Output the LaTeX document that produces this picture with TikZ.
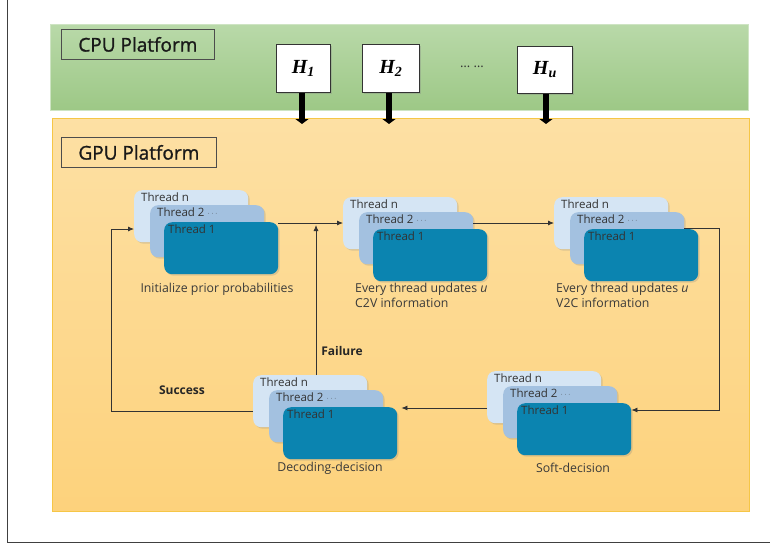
\documentclass[tikz,border=0pt]{standalone}
\usepackage{fontspec}
\setmainfont{Open Sans}
\newfontfamily\hfont{Liberation Serif}
\newfontfamily\platfont[FakeBold=1.2]{Open Sans}
\usetikzlibrary{arrows.meta,shadows,calc}
\definecolor{gtop}{HTML}{B9D9A9}
\definecolor{gbot}{HTML}{9DC886}
\definecolor{otop}{HTML}{FDE0A4}
\definecolor{obot}{HTML}{FDD27C}
\definecolor{oedge}{HTML}{F6C646}
\definecolor{tn}{HTML}{D5E5F4}
\definecolor{tb}{HTML}{A3C1E0}
\definecolor{ta}{HTML}{0B84B0}
\definecolor{ln}{HTML}{333333}
\definecolor{txt}{HTML}{3A3A3A}
\tikzset{
  thr/.style={draw=none, rounded corners=8pt, minimum width=114pt, minimum height=52pt,
    inner sep=0pt, drop shadow={shadow xshift=1.5pt, shadow yshift=-1.5pt, opacity=0.25}},
  thrn/.style={thr, fill=tn},
  thrb/.style={thr, fill=tb},
  thra/.style={thr, fill=ta},
  tlab/.style={font=\fontsize{11.5}{13}\selectfont, text=black!80, inner sep=0pt, anchor=north west},
  capt/.style={font=\fontsize{12.3}{14.5}\selectfont, text=txt, inner sep=0pt},
  plat/.style={draw=black!70, line width=0.8pt, inner sep=0pt, minimum height=30pt,
    font=\platfont\fontsize{19}{21}\selectfont, text=black!90},
  hbox/.style={draw=black!80, fill=white, line width=0.8pt, inner sep=0pt,
    drop shadow={shadow xshift=1.5pt, shadow yshift=-1.5pt, opacity=0.3},
    font=\hfont\bfseries\itshape\fontsize{20}{22}\selectfont},
  conn/.style={draw=ln, line width=0.8pt},
  arr/.style={conn, -{Latex[length=6pt,width=5pt]}},
  bigarr/.style={line width=5.5pt, -{Triangle[length=5pt,width=13pt]}, black},
  boldlab/.style={font=\fontsize{12}{13}\selectfont\bfseries, text=black!85},
}
\newcommand{\mkstack}[3]{%
  \node[thrn, anchor=north west] (#1n) at (#2,#3) {};
  \node[tlab] at ($(#1n.north west)+(7,3)$) {Thread n};
  \node[thrb, anchor=north west] (#1b) at (#2+16,#3+15) {};
  \node[tlab] at ($(#1b.north west)+(7,3)$) {Thread 2 {\fontsize{7}{8}\selectfont\raisebox{1pt}{$\cdots$}}};
  \node[thra, anchor=north west] (#1a) at (#2+30,#3+32) {};
  \node[tlab] at ($(#1a.north west)+(4,3)$) {Thread 1};
}
\begin{document}
\begin{tikzpicture}[x=1pt,y=-1pt]
\useasboundingbox (0,0) rectangle (770,546);
\fill[white] (0,0) rectangle (770,546);
% outer frame (left and bottom)
\draw[black!75, line width=1pt] (7,0) -- (7,542) -- (770,542);
% CPU platform
\shade[top color=gtop, bottom color=gbot] (50,24) rectangle (748,110);
\draw[gtop!70!white, line width=0.5pt] (50,24) rectangle (748,110);
\node[plat, minimum width=153pt, anchor=north west] (cpu) at (61,29) {CPU Platform};
% GPU platform
\shade[top color=otop, bottom color=obot] (52,118) rectangle (749,511);
\draw[oedge, line width=0.8pt] (52,118) rectangle (749,511);
\node[plat, minimum width=155pt, anchor=north west] (gpu) at (61,137) {GPU Platform};
% H boxes
\node[hbox, minimum width=54pt, minimum height=48pt, anchor=north west] (h1) at (276,44) {H\textsubscript{1}};
\node[hbox, minimum width=57pt, minimum height=48pt, anchor=north west] (h2) at (362,44) {H\textsubscript{2}};
\node[hbox, minimum width=55pt, minimum height=47pt, anchor=north west] (hu) at (517,46) {H\textsubscript{u}};
\node[font=\fontsize{13}{14}\selectfont, text=black!80] (dots) at (472,67) {\dots\ \dots};
\coordinate (a1) at (302,124);
\coordinate (a2) at (389,124);
\coordinate (a3) at (546,124);
\draw[bigarr] (h1.south -| a1) -- (a1);
\draw[bigarr] (h2.south -| a2) -- (a2);
\draw[bigarr] (hu.south -| a3) -- (a3);
% stacks
\mkstack{s}{134}{190}
\mkstack{c}{343}{197}
\mkstack{v}{554}{197}
\mkstack{d}{253}{375}
\mkstack{f}{487}{371}
% captions
\node[capt] (capS) at (217,289) {Initialize prior probabilities};
\node[capt, anchor=north west, align=left] (capC) at (355,283) {Every thread updates \textit{u}\\C2V information};
\node[capt, anchor=north west, align=left] (capV) at (556,283) {Every thread updates \textit{u}\\V2C information};
\node[capt] (capD) at (330,468) {Decoding-decision};
\node[capt] (capF) at (573,468) {Soft-decision};
% connectors
\coordinate (j1) at (316,223);
\draw[conn] (sa.east |- j1) -- (j1);
\draw[arr] (j1) -- (cn.west |- j1);
\coordinate (fb) at (316,375);
\draw[arr] (fb) -- ($(j1)+(0,2)$);
\node[boldlab] (fail) at (342,351) {Failure};
\draw[arr] (cb.east |- 0,223) -- (vn.west |- 0,223);
\coordinate (r1) at (719,228);
\coordinate (r2) at (719,410);
\draw[arr] (vb.east |- r1) -- (r1) -- (r2) -- (fa.east |- r2);
\draw[arr, shorten >=4pt] (fn.west |- 0,408) -- (da.east |- 0,408);
\coordinate (l1) at (111,411);
\coordinate (l2) at (111,229);
\draw[arr] (dn.west |- l1) -- (l1) -- (l2) -- (sn.west |- l2);
\node[boldlab] (succ) at (182,390) {Success};
\end{tikzpicture}
\end{document}
